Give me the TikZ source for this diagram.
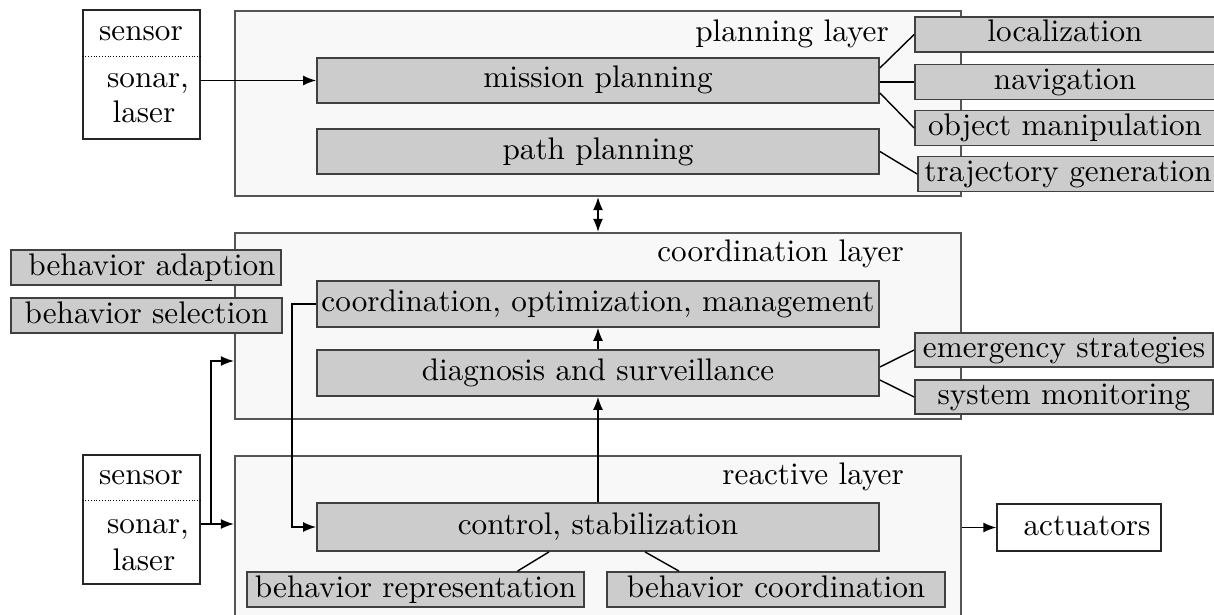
\documentclass[tikz,border=0pt]{standalone}
\usepackage{fontspec}
\setmainfont{lmroman10-regular.otf}
\usetikzlibrary{arrows.meta,calc}
\definecolor{layerfill}{HTML}{F8F8F8}
\definecolor{layerline}{HTML}{555555}
\definecolor{boxfill}{HTML}{CCCCCC}
\definecolor{boxline}{HTML}{404040}
\tikzset{
  layer/.style={draw=layerline, fill=layerfill, line width=1.1pt, inner sep=0pt},
  graybox/.style={draw=boxline, fill=boxfill, line width=0.9pt, inner sep=0pt,
    text height=11pt, text depth=3.5pt},
  whitebox/.style={draw=black!85, fill=white, line width=0.7pt, inner sep=0pt},
  plain/.style={inner sep=0pt, text height=11pt, text depth=3.5pt},
  conn/.style={line width=0.7pt, draw=black},
  arr/.style={conn, -{Latex[length=6.5pt,width=5pt]}},
  darr/.style={conn, {Latex[length=6.5pt,width=5pt]}-{Latex[length=6.5pt,width=5pt]}},
}
\begin{document}
\begin{tikzpicture}[x=0.5pt, y=-0.5pt, font=\fontsize{15.6pt}{19pt}\selectfont]
\useasboundingbox (0,0) rectangle (1214,615);
\clip (0,0) rectangle (1214,615);

% ---- layers
\node[layer, minimum width=363pt, minimum height=92.5pt] (planning) at (598,103.5) {};
\node[layer, minimum width=363pt, minimum height=93pt] (coordination) at (598,326) {};
\node[layer, minimum width=363pt, minimum height=92pt] (reactive) at (598,548) {};

\node[plain, anchor=east] (lblplan) at ($(planning.north east)+(-73,24)$) {planning layer};
\node[plain, anchor=east] (lblcoord) at ($(coordination.north east)+(-58,22)$) {coordination layer};
\node[plain, anchor=east] (lblreact) at ($(reactive.north east)+(-58,22)$) {reactive layer};

% ---- planning layer
\node[graybox, minimum width=281pt, minimum height=22.5pt] (mission) at (598,80.5) {mission planning};
\node[graybox, minimum width=281pt, minimum height=22.5pt] (path) at (598,151.5) {path planning};

\node[graybox, minimum width=150pt, minimum height=17.5pt] (loc) at (1065,34.5) {localization};
\node[graybox, minimum width=150pt, minimum height=17.5pt] (nav) at (1065,82) {navigation};
\node[graybox, minimum width=150pt, minimum height=17.5pt] (objm) at (1065,128) {object manipulation};
\node[graybox, minimum width=150pt, minimum height=17.5pt] (traj) at (1068,174) {trajectory generation};

% ---- coordination layer
\node[graybox, minimum width=281pt, minimum height=23pt] (coordbox) at (598,304) {coordination, optimization, management};
\node[graybox, minimum width=281pt, minimum height=23pt] (diag) at (598,373) {diagnosis and surveillance};

\node[graybox, minimum width=135pt, minimum height=17.5pt] (badapt) at (146,267.5) {\hspace*{6pt}behavior adaption};
\node[graybox, minimum width=135.5pt, minimum height=17.5pt] (bsel) at (146.5,315.5) {behavior selection};

\node[graybox, minimum width=149pt, minimum height=17pt] (emerg) at (1064,350) {emergency strategies};
\node[graybox, minimum width=149pt, minimum height=17pt] (sysmon) at (1064,397) {system monitoring};

% ---- reactive layer
\node[graybox, minimum width=281pt, minimum height=24pt] (control) at (598,527) {control, stabilization};
\node[graybox, minimum width=168.5pt, minimum height=17.5pt] (brep) at (415.5,589.5) {behavior representation};
\node[graybox, minimum width=169pt, minimum height=17.5pt] (bcoord) at (776,589.5) {behavior coordination};

% ---- sensors
\node[whitebox, minimum width=58.5pt, minimum height=64.5pt] (sensTop) at (141.5,74.5) {};
\draw[densely dotted, line width=0.4pt] ($(sensTop.north west)+(0,47)$) -- ($(sensTop.north east)+(0,47)$);
\node[plain] (sensTopA) at (141,33) {sensor};
\node[plain] (sensTopB) at (148,80) {sonar,};
\node[plain] (sensTopC) at (144,115) {laser};

\node[whitebox, minimum width=58.5pt, minimum height=64.5pt] (sensBot) at (141.5,519.5) {};
\draw[densely dotted, line width=0.4pt] ($(sensBot.north west)+(0,46)$) -- ($(sensBot.north east)+(0,46)$);
\node[plain] (sensBotA) at (141,477) {sensor};
\node[plain] (sensBotB) at (148,526) {sonar,};
\node[plain] (sensBotC) at (144,563) {laser};

% ---- actuators
\node[whitebox, minimum width=82pt, minimum height=23.5pt, text height=11pt, text depth=3.5pt] (act) at (1079,527.5) {\hspace*{8pt}actuators};

% ---- connectors: planning layer
\draw[arr] (sensTop.east |- mission.west) -- (mission.west);
\draw[conn] ($(mission.east)+(0,-12.5)$) -- (loc.west);
\draw[conn] (mission.east |- nav.west) -- (nav.west);
\draw[conn] ($(mission.east)+(0,12.5)$) -- (objm.west);
\draw[conn] (path.east) -- (traj.west);

% ---- connectors: between layers
\draw[darr] (planning.south) -- (coordination.north);
\draw[arr] (diag.north) -- (coordbox.south);
\draw[arr] (control.north) -- (diag.south);

% ---- connectors: coordination layer
\draw[conn] ($(diag.east)+(0,-6)$) -- (emerg.west);
\draw[conn] ($(diag.east)+(0,7)$) -- (sysmon.west);
\draw[arr] (coordbox.west) -- ++(-24,0) |- (control.west);

% ---- connectors: sensor input
\coordinate (jn) at (211,524);
\coordinate (cin) at ($(coordination.west)+(0,35)$);
\draw[conn] (sensBot.east |- jn) -- (jn);
\draw[arr] (jn) -- (jn -| reactive.west);
\draw[arr] (jn) |- (cin);

% ---- connectors: reactive layer
\draw[conn] ($(control.south)+(-49,0)$) -- ($(brep.north)+(102,0)$);
\draw[conn] ($(control.south)+(47,0)$) -- ($(bcoord.north)+(-97,0)$);
\draw[arr] (reactive.east |- act.west) -- (act.west);
\end{tikzpicture}
\end{document}
